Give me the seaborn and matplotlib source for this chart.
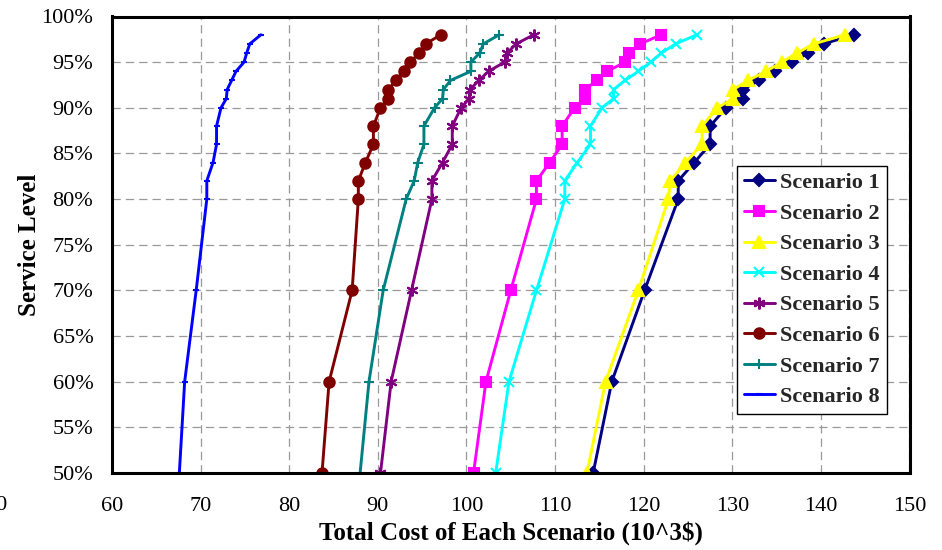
import matplotlib
matplotlib.use("Agg")
import matplotlib.pyplot as plt
import seaborn as sns
import pandas as pd
from matplotlib.ticker import FuncFormatter, MultipleLocator

# ---- data ----
levels = [50, 60, 70, 80, 82, 84, 86, 88, 90, 91, 92, 93, 94, 95, 96, 97, 98]
scenario_names = ["Scenario 1", "Scenario 2", "Scenario 3", "Scenario 4",
                  "Scenario 5", "Scenario 6", "Scenario 7", "Scenario 8"]
s1 = [114.3, 116.4, 120.1, 123.9, 123.9, 125.7, 127.5, 127.5, 129.3, 131.2, 131.2, 133.0, 134.8, 136.7, 138.6, 140.3, 143.7]
s2 = [100.8, 102.2, 105.0, 107.9, 107.9, 109.4, 110.8, 110.8, 112.2, 113.4, 113.4, 114.7, 115.9, 117.9, 118.3, 119.6, 122.0]
s3 = [113.6, 115.7, 119.4, 122.8, 123.0, 124.7, 126.6, 126.6, 128.3, 130.1, 130.1, 131.8, 133.8, 135.6, 137.3, 139.2, 142.7]
s4 = [103.3, 104.8, 107.9, 111.1, 111.1, 112.5, 114.0, 114.0, 115.3, 116.6, 116.6, 117.9, 119.4, 120.8, 122.0, 123.6, 126.0]
s5 = [90.3, 91.5, 93.8, 96.1, 96.1, 97.3, 98.4, 98.4, 99.4, 100.3, 100.4, 101.4, 102.5, 104.3, 104.6, 105.6, 107.6]
s6 = [83.7, 84.5, 87.1, 87.8, 87.8, 88.6, 89.5, 89.5, 90.3, 91.2, 91.2, 92.0, 92.9, 93.6, 94.7, 95.4, 97.1]
s7 = [88.0, 89.0, 90.6, 93.2, 94.1, 94.5, 95.2, 95.2, 96.4, 97.3, 97.4, 98.2, 100.5, 100.5, 101.5, 101.9, 103.7]
s8 = [67.6, 68.2, 69.5, 70.7, 70.7, 71.4, 71.8, 71.8, 72.3, 72.9, 73.0, 73.5, 74.0, 74.9, 75.2, 75.55, 76.8]
series = [s1, s2, s3, s4, s5, s6, s7, s8]
x_ticks = [60, 70, 80, 90, 100, 110, 120, 130, 140, 150]

colors = ["#000080", "#FF00FF", "#FFFF00", "#00FFFF",
          "#800080", "#800000", "#008080", "#0000FF"]
markers = ["D", "s", "^", "x", (6, 2, 0), "o", "+", "_"]
msizes = [6.5, 7.5, 8, 7.5, 8.5, 7.5, 7.5, 5]

rows = []
for name, vals in zip(scenario_names, series):
    for order, (c, lv) in enumerate(zip(vals, levels)):
        rows.append({"scenario": name, "cost": c, "level": lv, "order": order})
df = pd.DataFrame(rows)

sns.set_theme(style="white")
plt.rcParams["font.family"] = ["Liberation Serif", "DejaVu Serif"]
plt.rcParams["lines.scale_dashes"] = False

fig = plt.figure(figsize=(9.42, 5.5), dpi=100)
ax = fig.add_axes([112 / 942, 77 / 550, 797.5 / 942, 456.5 / 550])

for name, col, mk, ms in zip(scenario_names, colors, markers, msizes):
    sub = df[df["scenario"] == name]
    sns.lineplot(data=sub, x="cost", y="level", color=col, marker=mk,
                 markersize=ms, markeredgecolor=col, markerfacecolor=col,
                 markeredgewidth=1.5, estimator=None, sort=False,
                 linewidth=2.1, legend=False, ax=ax)

ax.set_xlim(60, 150)
ax.set_ylim(50, 100)
ax.set_xticks(x_ticks)
ax.yaxis.set_major_locator(MultipleLocator(5))
ax.yaxis.set_major_formatter(FuncFormatter(lambda v, p: f"{v:.0f}%"))

ax.grid(True, color="#999999", linestyle=(0, (6, 3.6)), linewidth=0.9)
ax.set_axisbelow(True)
for sp in ax.spines.values():
    sp.set_visible(True)
    sp.set_color("black")
    sp.set_linewidth(2.2)
ax.tick_params(axis="both", direction="in", length=4, width=1, color="#333333",
               labelsize=16, labelcolor="black")
ax.tick_params(axis="y", pad=13.5)
ax.tick_params(axis="x", pad=17)

ax.set_xlabel("Total Cost of Each Scenario (10^3$)", fontsize=18,
              fontweight="bold", color="black", labelpad=4)
ax.set_ylabel("Service Level", fontsize=18, fontweight="bold",
              color="black", labelpad=0.5)

# clipped "50" label at the left edge of the original picture
fig.text(7.5 / 942, 1 - 505 / 550, "50", fontsize=16, ha="right", va="center",
         color="black")

leg = ax.legend(handles=ax.lines[:8], labels=scenario_names, loc="upper left",
                bbox_to_anchor=(0.7837, 0.6725), borderaxespad=0,
                frameon=True, fancybox=False, edgecolor="black",
                prop={"weight": "bold", "size": 16},
                handlelength=1.4, handletextpad=0.25, labelspacing=0.45,
                borderpad=0.3)
leg.get_frame().set_linewidth(1.0)
leg.get_frame().set_facecolor("white")
leg.get_frame().set_alpha(1)

fig.savefig("out.png", dpi=100)
